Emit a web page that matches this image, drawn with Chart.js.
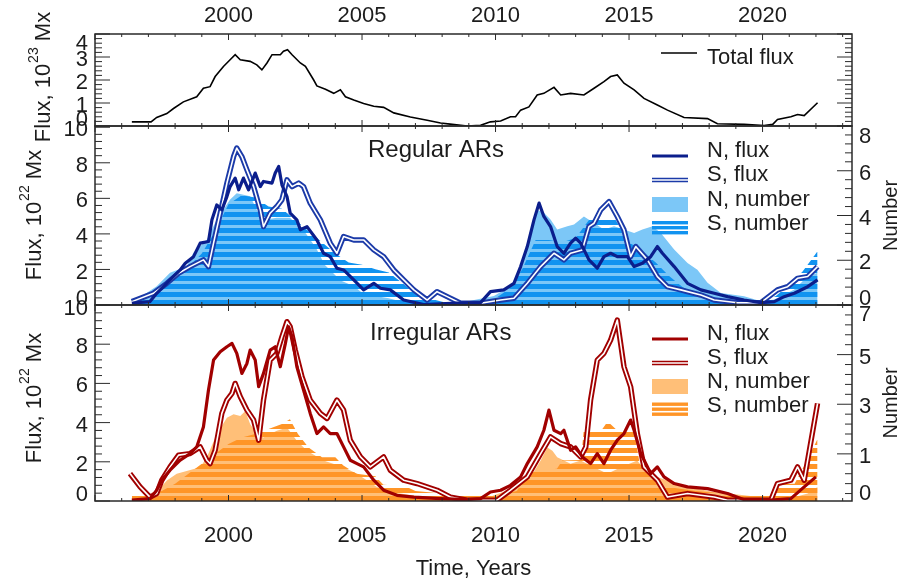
<!DOCTYPE html>
<html>
<head>
<meta charset="utf-8">
<script src="https://cdn.jsdelivr.net/npm/chart.js@4.4.1/dist/chart.umd.min.js"></script>
<style>
  body { margin: 0; background: #fff; }
  #wrap { position: relative; width: 898px; height: 588px; }
  #wrap canvas { position: absolute; left: 0; top: 0; }
</style>
</head>
<body>
<div id="wrap">
  <canvas id="cTop" width="898" height="588"></canvas>
  <canvas id="cReg" width="898" height="588"></canvas>
  <canvas id="cIrr" width="898" height="588"></canvas>
</div>
<script>
// ---- data: [year, value] ----
const yearTicks = [2000, 2005, 2010, 2015, 2020];
const topFluxTicks = [0, 1, 2, 3, 4];
const arFluxTicks = [0, 2, 4, 6, 8, 10];
const regNumTicks = [0, 2, 4, 6, 8];
const irrNumTicks = [0, 1, 3, 5, 7];

// total flux, 10^23 Mx
const totalFlux = [
  [1996.38,0.18],[1997.1,0.18],[1997.31,0.37],[1997.69,0.54],[1997.94,0.76],[1998.31,1.05],[1998.81,1.27],
  [1999.06,1.64],[1999.31,1.71],[1999.5,2.15],[1999.81,2.59],[2000.06,2.88],[2000.25,3.1],[2000.44,2.88],
  [2000.81,2.81],[2001.06,2.66],[2001.25,2.44],[2001.44,2.74],[2001.63,3.1],[2001.94,3.1],[2002.06,3.25],
  [2002.21,3.32],[2002.38,3.1],[2002.69,2.74],[2002.88,2.59],[2003.19,2.0],[2003.31,1.74],[2003.63,1.6],
  [2003.94,1.42],[2004.19,1.57],[2004.38,1.27],[2004.69,1.13],[2005.06,0.98],[2005.44,0.86],[2005.81,0.81],
  [2006.19,0.57],[2006.81,0.39],[2007.44,0.25],[2007.94,0.13],[2008.3,0.08],[2008.94,0.0],[2009.44,0.03],
  [2009.81,0.18],[2010.19,0.22],[2010.56,0.4],[2010.75,0.4],[2010.94,0.69],[2011.25,0.83],[2011.56,1.35],
  [2011.81,1.42],[2012.19,1.68],[2012.44,1.35],[2012.81,1.42],[2013.31,1.35],[2013.69,1.64],[2014.06,1.93],
  [2014.31,2.15],[2014.56,2.22],[2014.81,1.86],[2015.19,1.57],[2015.56,1.2],[2016.06,0.91],[2016.44,0.69],
  [2017.06,0.37],[2017.94,0.32],[2018.31,0.1],[2019.31,0.07],[2020.06,0.02],[2020.38,0.07],[2020.56,0.28],
  [2021.06,0.4],[2021.31,0.5],[2021.56,0.45],[2022.06,1.01]
];

// regular ARs, flux 10^22 Mx
const regNFlux = [
  [1996.38,0.1],[1997.06,0.19],[1997.31,0.66],[1997.81,1.41],[1998.19,1.97],[1998.38,2.35],[1998.69,2.72],
  [1998.94,3.48],[1999.25,3.57],[1999.38,4.79],[1999.56,5.63],[1999.75,5.35],[1999.94,6.1],[2000.06,6.66],
  [2000.25,7.14],[2000.38,6.48],[2000.56,7.14],[2000.75,6.48],[2001.0,7.42],[2001.19,6.66],[2001.31,6.95],
  [2001.63,6.86],[2001.75,7.42],[2001.88,7.79],[2002.0,6.76],[2002.19,6.1],[2002.31,5.17],[2002.56,4.79],
  [2002.69,4.23],[2002.94,4.41],[2003.31,3.66],[2003.56,2.91],[2003.81,2.72],[2004.06,2.07],[2004.31,1.97],
  [2004.69,1.41],[2005.06,0.85],[2005.44,1.22],[2005.69,0.94],[2006.06,0.85],[2006.56,0.28],[2007.31,0.02],
  [2008.56,0.1],[2009.44,0.13],[2009.81,0.75],[2010.31,0.85],[2010.69,1.22],[2010.94,2.16],[2011.19,3.29],
  [2011.44,4.79],[2011.63,5.73],[2011.81,4.98],[2012.06,4.41],[2012.31,3.29],[2012.56,2.91],[2012.81,3.48],
  [2013.0,3.76],[2013.19,3.48],[2013.5,2.54],[2013.81,2.07],[2014.06,2.72],[2014.31,2.91],[2014.56,2.72],
  [2014.94,2.72],[2015.19,2.16],[2015.5,2.35],[2015.81,2.72],[2016.06,3.29],[2016.25,2.91],[2016.69,2.16],
  [2017.19,1.22],[2017.69,0.85],[2018.19,0.66],[2018.69,0.47],[2019.31,0.28],[2019.94,0.13],[2020.44,0.19],
  [2020.81,0.47],[2021.19,0.66],[2021.69,1.03],[2022.06,1.41]
];
const regSFlux = [
  [1996.38,0.19],[1997.19,0.66],[1997.69,1.22],[1998.13,1.79],[1998.56,2.16],[1999.06,2.54],[1999.25,2.16],
  [1999.44,3.48],[1999.69,5.17],[1999.94,6.86],[2000.19,8.35],[2000.31,8.83],[2000.5,8.35],[2000.69,7.6],
  [2000.94,6.66],[2001.19,5.35],[2001.31,4.41],[2001.56,5.17],[2001.81,5.54],[2002.0,5.92],[2002.19,7.04],
  [2002.38,6.66],[2002.63,6.86],[2002.81,6.66],[2003.06,5.73],[2003.44,4.79],[2003.81,3.48],[2004.06,2.91],
  [2004.31,3.85],[2004.69,3.66],[2005.06,3.66],[2005.44,3.1],[2005.81,2.72],[2006.19,1.97],[2006.56,1.41],
  [2006.94,0.85],[2007.44,0.28],[2007.81,0.75],[2008.19,0.47],[2008.69,0.1],[2009.44,0.1],[2010.19,0.28],
  [2010.69,0.38],[2011.19,1.22],[2011.69,2.16],[2012.19,2.91],[2012.56,2.54],[2012.81,2.91],[2013.25,3.1],
  [2013.5,4.41],[2013.69,4.6],[2013.94,5.35],[2014.25,5.82],[2014.56,4.98],[2014.81,4.23],[2015.06,2.72],
  [2015.25,3.29],[2015.69,2.54],[2016.06,1.6],[2016.44,1.03],[2016.94,0.85],[2017.69,0.56],[2018.19,0.28],
  [2019.06,0.13],[2019.94,0.13],[2020.56,0.85],[2020.94,1.03],[2021.31,1.5],[2021.69,1.6],[2022.06,2.16]
];
// regular ARs, number
const regNNum = [
  [1996.38,0.1],[1997.31,0.84],[1997.81,1.44],[1998.44,1.73],[1998.69,2.33],[1999.19,2.92],[1999.56,3.82],
  [2000.06,4.71],[2000.31,5.0],[2000.81,4.86],[2001.06,4.26],[2001.31,3.8],[2001.8,3.9],[2002.3,3.9],
  [2002.9,3.2],[2003.3,2.5],[2003.6,1.8],[2004.2,1.1],[2004.7,0.84],[2005.0,0.55],[2005.5,0.4],[2006.0,0.3],
  [2006.5,0.15],[2007.5,0.1],[2008.69,0.1],[2009.94,0.4],[2010.56,0.84],[2010.94,1.58],[2011.31,3.37],
  [2011.56,4.26],[2011.81,4.12],[2012.06,3.82],[2012.31,3.37],[2012.69,3.52],[2012.94,3.6],[2013.31,3.96],
  [2013.69,3.67],[2014.06,3.37],[2014.44,3.52],[2014.81,3.37],[2015.19,3.22],[2015.5,3.37],[2015.88,3.52],
  [2016.19,3.22],[2016.69,2.48],[2017.19,1.88],[2017.56,1.58],[2017.94,0.99],[2018.44,0.54],[2019.31,0.39],
  [2019.94,0.17],[2020.44,0.25],[2021.19,0.69],[2021.69,1.29],[2022.06,1.44]
];
const regSNum = [
  [1996.38,0.05],[1997.0,0.3],[1997.5,0.7],[1998.0,1.2],[1998.5,1.7],[1999.0,2.3],[1999.5,3.3],[2000.0,4.5],
  [2000.5,4.9],[2001.0,4.8],[2001.5,4.4],[2002.0,4.3],[2002.5,3.8],[2003.0,3.3],[2003.5,2.8],[2004.0,2.3],
  [2004.5,1.9],[2005.0,1.8],[2005.5,1.6],[2006.0,1.45],[2006.5,1.0],[2007.0,0.5],[2007.5,0.3],[2008.0,0.15],
  [2008.5,0.05],[2009.0,0.05],[2009.5,0.1],[2010.0,0.3],[2010.5,0.7],[2011.0,1.6],[2011.5,2.9],[2012.0,2.9],
  [2012.5,2.8],[2013.0,3.0],[2013.5,3.8],[2014.0,3.9],[2014.5,3.8],[2015.0,2.8],[2015.5,2.4],[2016.0,1.9],
  [2016.5,1.3],[2017.0,0.8],[2017.5,0.5],[2018.0,0.35],[2018.5,0.25],[2019.0,0.2],[2019.5,0.15],[2020.0,0.15],
  [2020.5,0.4],[2021.0,0.9],[2021.5,1.5],[2022.06,2.4]
];

// irregular ARs, flux 10^22 Mx
const irrNFlux = [
  [1996.38,0.04],[1997.06,0.12],[1997.31,0.55],[1997.5,1.06],[1997.81,1.57],[1998.19,2.08],[1998.56,2.42],
  [1998.81,2.76],[1999.06,3.78],[1999.25,5.66],[1999.44,7.19],[1999.69,7.61],[1999.94,7.87],[2000.13,8.04],
  [2000.31,7.53],[2000.5,6.51],[2000.69,7.02],[2000.81,7.7],[2001.0,7.19],[2001.13,5.83],[2001.31,6.51],
  [2001.56,7.7],[2001.75,7.87],[2001.94,6.85],[2002.13,8.04],[2002.25,8.89],[2002.38,8.38],[2002.56,6.85],
  [2002.81,5.66],[2003.06,4.47],[2003.31,3.44],[2003.56,3.78],[2003.81,3.44],[2004.06,3.44],[2004.31,2.76],
  [2004.56,2.08],[2004.81,1.91],[2005.06,1.74],[2005.44,1.06],[2005.81,0.55],[2006.31,0.29],[2006.94,0.2],
  [2007.94,0.12],[2008.94,0.07],[2009.44,0.12],[2009.81,0.46],[2010.19,0.55],[2010.56,0.8],[2010.94,1.23],
  [2011.19,1.91],[2011.56,2.76],[2011.81,3.61],[2012.0,4.64],[2012.19,3.61],[2012.44,3.44],[2012.56,3.61],
  [2012.81,2.59],[2013.0,2.76],[2013.25,2.25],[2013.56,1.91],[2013.81,2.42],[2014.06,1.91],[2014.31,2.59],
  [2014.56,3.1],[2014.81,3.44],[2015.06,4.13],[2015.19,3.61],[2015.44,2.42],[2015.81,1.4],[2016.06,1.74],
  [2016.31,1.23],[2016.69,0.89],[2017.19,0.72],[2017.94,0.63],[2018.69,0.38],[2019.31,0.07],[2020.31,0.04],
  [2021.06,0.12],[2021.56,0.72],[2022.0,1.23]
];
const irrSFlux = [
  [1996.31,1.4],[1996.69,0.72],[1997.06,0.2],[1997.31,0.38],[1997.5,1.06],[1997.81,1.74],[1998.13,2.34],
  [1998.56,2.42],[1998.94,2.76],[1999.19,2.08],[1999.31,1.91],[1999.5,2.59],[1999.75,4.47],[1999.94,5.15],
  [2000.13,5.49],[2000.25,6.0],[2000.44,5.32],[2000.69,4.64],[2000.94,4.13],[2001.13,3.1],[2001.31,5.15],
  [2001.56,7.19],[2001.81,7.53],[2002.0,8.38],[2002.19,9.15],[2002.31,8.89],[2002.5,7.7],[2002.75,6.34],
  [2003.06,5.15],[2003.44,4.47],[2003.69,4.21],[2004.06,5.15],[2004.31,4.64],[2004.56,3.1],[2004.94,2.25],
  [2005.31,1.74],[2005.81,2.25],[2006.06,1.57],[2006.56,1.06],[2007.06,0.89],[2007.81,0.55],[2008.31,0.2],
  [2008.94,0.04],[2010.06,0.04],[2010.56,0.55],[2011.19,1.23],[2011.69,2.42],[2012.06,3.27],[2012.44,2.93],
  [2012.81,2.76],[2013.19,2.25],[2013.38,2.76],[2013.56,5.15],[2013.81,7.19],[2014.06,7.53],[2014.31,8.21],
  [2014.56,9.23],[2014.81,6.85],[2015.06,5.83],[2015.31,3.44],[2015.56,1.74],[2016.06,1.06],[2016.44,0.2],
  [2017.19,0.38],[2018.19,0.2],[2018.69,0.04],[2020.31,0.04],[2020.56,0.89],[2021.06,1.06],[2021.31,1.74],
  [2021.56,1.06],[2022.06,4.98]
];
// irregular ARs, number (right axis starts below zero in the figure)
const irrNNum = [
  [1996.38,-0.85],[1997.1,-0.8],[1997.69,-0.07],[1998.06,0.2],[1998.94,0.46],[1999.19,0.86],[1999.56,1.8],
  [1999.94,2.46],[2000.19,2.6],[2000.44,2.53],[2000.63,2.73],[2000.81,2.2],[2001.06,1.8],[2001.31,1.66],
  [2001.56,1.8],[2001.81,1.93],[2002.19,2.06],[2002.56,1.53],[2002.94,1.13],[2003.56,0.73],[2004.31,0.46],
  [2004.81,0.2],[2005.56,-0.34],[2006.06,-0.54],[2007.31,-0.74],[2008.5,-0.8],[2009.7,-0.8],[2009.94,-0.67],
  [2010.81,-0.34],[2011.31,0.06],[2011.69,0.73],[2011.94,1.26],[2012.13,1.13],[2012.31,0.86],[2012.56,0.73],
  [2012.81,0.6],[2013.19,0.73],[2013.69,0.46],[2014.19,0.2],[2014.69,0.46],[2015.31,0.73],[2015.69,0.2],
  [2016.44,-0.07],[2017.19,-0.34],[2018.19,-0.54],[2019.31,-0.67],[2020.3,-0.8],[2021.19,-0.75],
  [2021.69,-0.6],[2022.06,-0.34]
];
const irrSNum = [
  [1996.38,-0.58],[1997.1,-0.58],[1997.5,-0.5],[1998.0,-0.2],[1998.5,0.2],[1999.0,0.6],[1999.5,1.0],
  [2000.0,1.4],[2000.5,1.66],[2001.0,1.8],[2001.5,2.0],[2002.0,2.2],[2002.3,2.4],[2002.6,1.8],[2003.0,1.26],
  [2003.5,0.86],[2004.0,0.86],[2004.3,0.53],[2004.8,0.2],[2005.5,0.1],[2005.8,-0.25],[2006.6,-0.3],
  [2007.0,-0.5],[2008.0,-0.6],[2009.0,-0.7],[2010.0,-0.7],[2010.8,-0.5],[2011.3,0.3],[2012.3,0.4],
  [2012.5,0.73],[2013.2,0.75],[2013.3,1.9],[2014.0,2.0],[2014.2,2.3],[2014.5,2.0],[2015.2,1.9],[2015.4,0.6],
  [2015.8,0.1],[2016.2,-0.3],[2017.5,-0.5],[2018.5,-0.6],[2019.5,-0.65],[2020.3,-0.6],[2020.6,-0.2],
  [2021.2,-0.2],[2021.6,0.6],[2022.06,1.6]
];

// ---- layout / style ----
const W = 898, H = 588;
const PLOT_L = 95, PLOT_R = 852;
const X_MIN = 1995, X_MAX = 2023.35;
const FONT = '"Liberation Sans", Arial, Helvetica, sans-serif';
const INK = '#1c1c1c';
const FRAME = '#2a2a2a';

const BLUE = { nLine: '#0b1e8c', sLine: '#1b3aa8', fill: '#7cc7f7', stripe: '#1193f0' };
const RED = { nLine: '#a10000', sLine: '#a10000', fill: '#ffbf78', stripe: '#ff9527' };

function pts(pairs) {
  return pairs.map(p => ({ x: p[0], y: p[1] }));
}

// horizontal stripes, 8px period, a dark band ends on the panel bottom
function stripes(color, bottom) {
  const c = document.createElement('canvas');
  c.width = 8; c.height = 8;
  const g = c.getContext('2d');
  g.fillStyle = color;
  for (let r = 0; r < 8; r++) {
    if ((((r - bottom) % 8) + 8) % 8 >= 3) g.fillRect(0, r, 8, 1);
  }
  return g.createPattern(c, 'repeat');
}

function xScale(position, height) {
  return {
    type: 'linear', position, min: X_MIN, max: X_MAX,
    grid: { display: false }, border: { display: false },
    ticks: { display: false },
    afterFit: s => { s.height = height; }
  };
}

function yScale(position, min, max, width) {
  return {
    type: 'linear', position, min, max,
    grid: { display: false }, border: { display: false },
    ticks: { display: false },
    afterFit: s => { s.width = width; }
  };
}

function arDatasets(nFlux, sFlux, nNum, sNum, c, bottom) {
  return [
    { label: 'N, flux', data: pts(nFlux), yAxisID: 'y', borderColor: c.nLine, borderWidth: 3.2, order: 1 },
    { label: 'S, flux', data: pts(sFlux), yAxisID: 'y', borderColor: '#ffffff', borderWidth: 1.6, order: 2 },
    { label: 'S, flux', data: pts(sFlux), yAxisID: 'y', borderColor: c.sLine, borderWidth: 5.4, order: 3 },
    { label: 'S, number', data: pts(sNum), yAxisID: 'y2', borderColor: 'rgba(0,0,0,0)', borderWidth: 0,
      backgroundColor: stripes(c.stripe, bottom), fill: 'start', order: 4 },
    { label: 'N, number', data: pts(nNum), yAxisID: 'y2', borderColor: 'rgba(0,0,0,0)', borderWidth: 0,
      backgroundColor: c.fill, fill: 'start', order: 5 }
  ].map(d => Object.assign({ pointRadius: 0, tension: 0, fill: false, borderJoinStyle: 'round' }, d));
}

// ---- drawing helpers for the IDL-like frame ----
function yAxisMarks(ctx, a, scale, ax) {
  const left = ax.side === 'left';
  const x0 = left ? a.left : a.right, dir = left ? 1 : -1;
  ctx.beginPath();
  const kMin = Math.ceil((scale.min - ax.minorFrom) / ax.minorStep - 1e-6);
  const kMax = Math.floor((scale.max - ax.minorFrom) / ax.minorStep + 1e-6);
  for (let k = kMin; k <= kMax; k++) {
    const v = ax.minorFrom + k * ax.minorStep;
    const major = ax.majors.some(m => Math.abs(m - v) < 1e-6);
    const y = scale.getPixelForValue(v);
    ctx.moveTo(x0, y);
    ctx.lineTo(x0 + dir * (major ? 15 : 7), y);
  }
  ctx.stroke();
  if (!ax.labels) return;
  ctx.fillStyle = INK;
  ctx.font = '22px ' + FONT;
  ctx.textBaseline = 'middle';
  ctx.textAlign = left ? 'right' : 'left';
  ax.labels.forEach(v => {
    let y = scale.getPixelForValue(v) + 3;
    if (ax.pinZero && v === 0) y = a.bottom - 7;
    y = Math.max(a.top + ax.insetTop, Math.min(a.bottom - 6, y));
    ctx.fillText(String(v), x0 - dir * 7, y);
  });
}

function fluxTitle(ctx, exp, bx, cy) {
  const big = '22px ' + FONT, small = '14px ' + FONT;
  ctx.save();
  ctx.translate(bx, cy);
  ctx.rotate(-Math.PI / 2);
  ctx.font = big;
  const w1 = ctx.measureText('Flux, 10').width, w3 = ctx.measureText(' Mx').width;
  ctx.font = small;
  const w2 = ctx.measureText(exp).width + 1;
  let u = -(w1 + w2 + w3) / 2;
  ctx.fillStyle = INK;
  ctx.textAlign = 'left';
  ctx.textBaseline = 'alphabetic';
  ctx.font = big; ctx.fillText('Flux, 10', u, 0); u += w1;
  ctx.font = small; ctx.fillText(exp, u + 1, -12); u += w2;
  ctx.font = big; ctx.fillText(' Mx', u, 0);
  ctx.restore();
}

function rightTitle(ctx, text, bx, cy) {
  ctx.save();
  ctx.translate(bx, cy);
  ctx.rotate(-Math.PI / 2);
  ctx.fillStyle = INK;
  ctx.font = '20px ' + FONT;
  ctx.textAlign = 'center';
  ctx.textBaseline = 'alphabetic';
  ctx.fillText(text, 0, 0);
  ctx.restore();
}

function drawLegend(ctx, items, c) {
  const x0 = 652, x1 = 688;
  items.forEach(it => {
    const b = it.base;
    if (it.kind === 'n-line') {
      ctx.strokeStyle = c.nLine; ctx.lineWidth = 3;
      ctx.beginPath(); ctx.moveTo(x0, b - 1); ctx.lineTo(x1, b - 1); ctx.stroke();
    } else if (it.kind === 's-line') {
      ctx.strokeStyle = c.sLine; ctx.lineWidth = 4.6;
      ctx.beginPath(); ctx.moveTo(x0, b - 1); ctx.lineTo(x1, b - 1); ctx.stroke();
      ctx.strokeStyle = '#ffffff'; ctx.lineWidth = 1.4;
      ctx.beginPath(); ctx.moveTo(x0, b - 1); ctx.lineTo(x1, b - 1); ctx.stroke();
    } else if (it.kind === 'n-box') {
      ctx.fillStyle = c.fill; ctx.fillRect(x0, b - 9, x1 - x0, 15);
    } else {
      ctx.fillStyle = c.stripe;
      for (let k = 0; k < 3; k++) ctx.fillRect(x0, b - 9 + k * 5, x1 - x0, 3.4);
    }
    ctx.fillStyle = INK;
    ctx.font = '22px ' + FONT;
    ctx.textAlign = 'left';
    ctx.textBaseline = 'alphabetic';
    ctx.fillText(it.label, 707, b);
  });
}

const panelPlugin = {
  id: 'panel',
  afterDatasetsDraw(chart, args, o) {
    const { ctx, chartArea: a, scales } = chart;
    ctx.save();
    // frame
    ctx.strokeStyle = FRAME;
    ctx.lineWidth = 1.5;
    ctx.strokeRect(a.left, a.top, a.right - a.left, a.bottom - a.top);
    // year ticks, inward on top and bottom edges
    ctx.lineWidth = 1;
    ctx.beginPath();
    for (let yr = Math.ceil(X_MIN); yr <= X_MAX; yr++) {
      const x = scales.x.getPixelForValue(yr), len = yr % 5 === 0 ? 6 : 3;
      ctx.moveTo(x, a.top); ctx.lineTo(x, a.top + len);
      ctx.moveTo(x, a.bottom); ctx.lineTo(x, a.bottom - len);
    }
    ctx.stroke();
    o.axes.forEach(ax => yAxisMarks(ctx, a, scales[ax.id], ax));

    // year labels
    if (o.yearLabels) {
      ctx.fillStyle = INK;
      ctx.font = '22px ' + FONT;
      ctx.textAlign = 'center';
      ctx.textBaseline = 'alphabetic';
      yearTicks.forEach(yr => ctx.fillText(String(yr), scales.x.getPixelForValue(yr), o.yearLabels));
    }
    if (o.xTitle) {
      ctx.font = '22px ' + FONT;
      ctx.textAlign = 'center';
      ctx.fillText(o.xTitle, (a.left + a.right) / 2, 575);
    }
    if (o.fluxTitle) fluxTitle(ctx, o.fluxTitle.exp, o.fluxTitle.bx, o.fluxTitle.cy);
    if (o.rightTitle) rightTitle(ctx, 'Number', 897, (a.top + a.bottom) / 2);
    if (o.panelTitle) {
      ctx.fillStyle = INK;
      ctx.font = '24px ' + FONT;
      ctx.textAlign = 'left';
      ctx.textBaseline = 'alphabetic';
      ctx.fillText(o.panelTitle.text, o.panelTitle.x, o.panelTitle.y);
    }
    if (o.legend) drawLegend(ctx, o.legend, o.colors);
    if (o.totalLegend) {
      ctx.strokeStyle = '#000'; ctx.lineWidth = 1.6;
      ctx.beginPath(); ctx.moveTo(661, 53); ctx.lineTo(697, 53); ctx.stroke();
      ctx.fillStyle = INK; ctx.font = '22px ' + FONT;
      ctx.textAlign = 'left'; ctx.textBaseline = 'alphabetic';
      ctx.fillText('Total flux', 707, 64);
    }
    ctx.restore();
  }
};

function baseOptions(padTop, padBottom, padRight, scales, panel) {
  return {
    responsive: false,
    animation: false,
    events: [],
    layout: { padding: { top: padTop, bottom: padBottom, left: 0, right: padRight } },
    plugins: { legend: { display: false }, tooltip: { enabled: false }, panel },
    scales
  };
}

// ---- top panel: total flux ----
new Chart(document.getElementById('cTop'), {
  type: 'line',
  data: {
    datasets: [{
      label: 'Total flux', data: pts(totalFlux), borderColor: '#000000', borderWidth: 1.6,
      pointRadius: 0, tension: 0, fill: false
    }]
  },
  options: baseOptions(0, H - 126, W - PLOT_R, {
    x: xScale('top', 34),
    y: yScale('left', 0, 4, PLOT_L)
  }, {
    axes: [
      { id: 'y', side: 'left', majors: topFluxTicks, minorFrom: 0, minorStep: 0.2, labels: topFluxTicks, insetTop: 10 },
      { id: 'y', side: 'right', majors: topFluxTicks, minorFrom: 0, minorStep: 0.2, labels: null }
    ],
    yearLabels: 21.5,
    fluxTitle: { exp: '23', bx: 50, cy: 77 },
    totalLegend: true
  }),
  plugins: [panelPlugin]
});

// ---- middle panel: regular ARs ----
new Chart(document.getElementById('cReg'), {
  type: 'line',
  data: { datasets: arDatasets(regNFlux, regSFlux, regNNum, regSNum, BLUE, 305) },
  options: baseOptions(126, H - 305, 0, {
    x: xScale('bottom', 0),
    y: yScale('left', 0, 10.07, PLOT_L),
    y2: yScale('right', 0, 8, W - PLOT_R)
  }, {
    axes: [
      { id: 'y', side: 'left', majors: arFluxTicks, minorFrom: 0, minorStep: 0.4, labels: arFluxTicks, insetTop: 4 },
      { id: 'y2', side: 'right', majors: regNumTicks, minorFrom: 0, minorStep: 0.4, labels: regNumTicks, insetTop: 11 }
    ],
    fluxTitle: { exp: '22', bx: 41, cy: 215 },
    rightTitle: true,
    panelTitle: { text: 'Regular ARs', x: 368, y: 156.5 },
    colors: BLUE,
    legend: [
      { kind: 'n-line', label: 'N, flux', base: 157 },
      { kind: 's-line', label: 'S, flux', base: 181 },
      { kind: 'n-box', label: 'N, number', base: 206 },
      { kind: 's-stripes', label: 'S, number', base: 230 }
    ]
  }),
  plugins: [panelPlugin]
});

// ---- bottom panel: irregular ARs ----
new Chart(document.getElementById('cIrr'), {
  type: 'line',
  data: { datasets: arDatasets(irrNFlux, irrSFlux, irrNNum, irrSNum, RED, 501) },
  options: baseOptions(305, 0, 0, {
    x: xScale('bottom', H - 501),
    y: yScale('left', 0, 10, PLOT_L),
    y2: yScale('right', -0.9, 7, W - PLOT_R)
  }, {
    axes: [
      { id: 'y', side: 'left', majors: arFluxTicks, minorFrom: 0, minorStep: 0.4, labels: arFluxTicks, insetTop: 4 },
      { id: 'y2', side: 'right', majors: [1, 3, 5, 7], minorFrom: 1, minorStep: 0.4, labels: irrNumTicks, insetTop: 10, pinZero: true }
    ],
    yearLabels: 542,
    xTitle: 'Time, Years',
    fluxTitle: { exp: '22', bx: 41, cy: 398 },
    rightTitle: true,
    panelTitle: { text: 'Irregular ARs', x: 370, y: 339.5 },
    colors: RED,
    legend: [
      { kind: 'n-line', label: 'N, flux', base: 340 },
      { kind: 's-line', label: 'S, flux', base: 364 },
      { kind: 'n-box', label: 'N, number', base: 388 },
      { kind: 's-stripes', label: 'S, number', base: 411.5 }
    ]
  }),
  plugins: [panelPlugin]
});
</script>
</body>
</html>
